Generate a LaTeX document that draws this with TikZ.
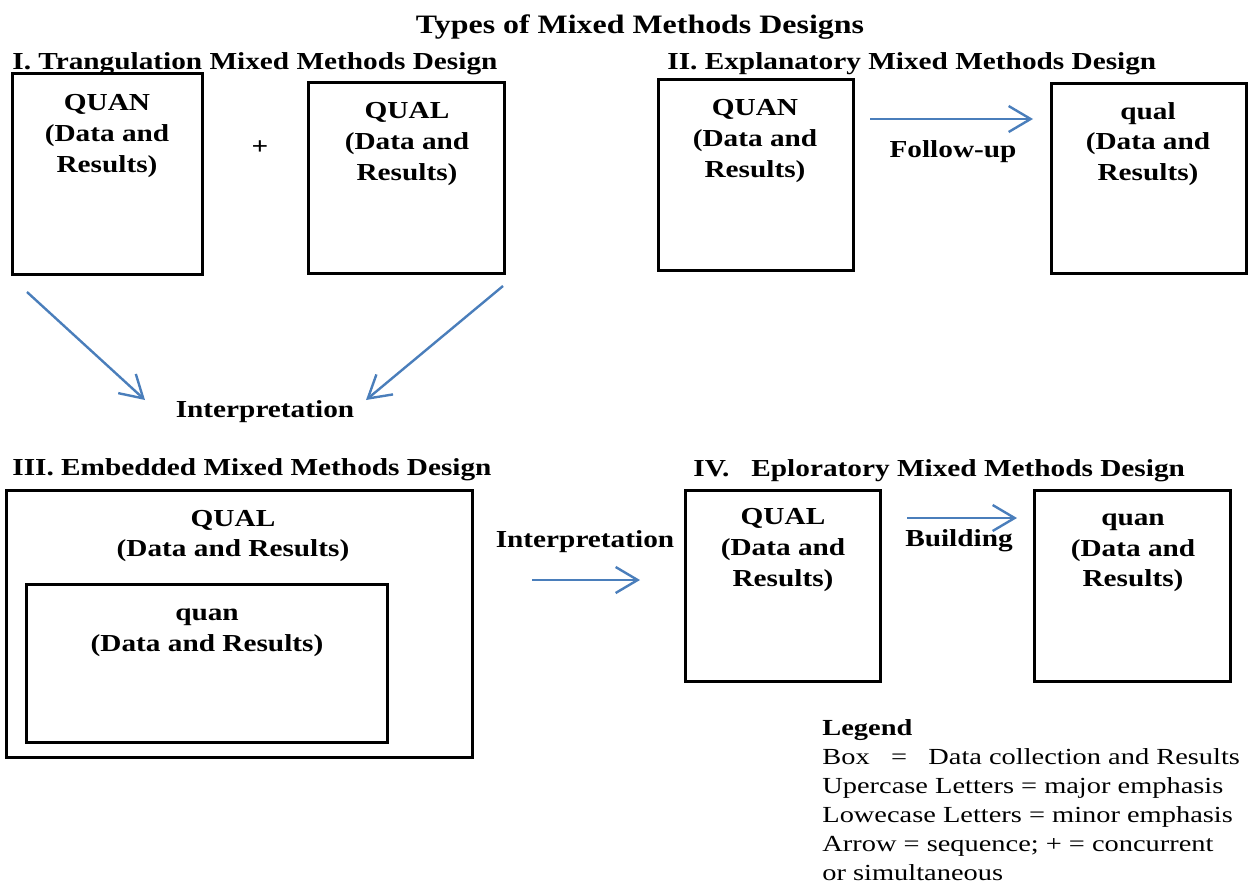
\documentclass[tikz,border=0pt]{standalone}
\usepackage{fontspec}
\setmainfont{Liberation Serif}[FakeStretch=1.2]
\newfontfamily\legfont{Liberation Serif}[FakeStretch=1.235]
\usetikzlibrary{arrows.meta,fit}
\definecolor{arrblue}{RGB}{74,126,187}
\tikzset{
  box/.style={draw, line width=1.5pt, inner sep=0pt},
  txt/.style={font=\bfseries\fontsize{12.2}{15.3}\selectfont, align=center, inner sep=0pt},
  head/.style={font=\bfseries\fontsize{12.2}{15}\selectfont, anchor=base west, inner sep=0pt},
  arr/.style={draw=arrblue, line width=1.2pt, -{Straight Barb[length=11pt,width=13pt]}},
}
\begin{document}
\begin{tikzpicture}[x=0.5pt,y=-0.5pt]
        \useasboundingbox (0,0) rectangle (1248,884);
        \node[font=\bfseries\fontsize{13.3}{16}\selectfont, anchor=base, inner sep=0pt] (title) at (640,33) {Types of Mixed Methods Designs};

        % I. triangulation
        \node[head] (h1) at (12,69) {I. Trangulation Mixed Methods Design};
        \node[box, fit={(12,73) (202,274)}] (b1) {};
        \node[box, fit={(308,82) (504,273)}] (b2) {};
        \node[txt] (t1) at (107,136) {QUAN\\(Data and\\Results)};
        \node[txt] (t2) at (407,144) {QUAL\\(Data and\\Results)};
        \node[txt] (plus) at (260,148) {+};
        \node[txt, anchor=base] (interp1) at (265,417) {Interpretation};
        \coordinate (s1) at (27,292);
        \coordinate (e1) at (145,400);
        \coordinate (s2) at (503,286);
        \coordinate (e2) at (366,400);
        \draw[arr] (s1) -- (e1);
        \draw[arr] (s2) -- (e2);

        % II. explanatory
        \node[head] (h2) at (667,69) {II. Explanatory Mixed Methods Design};
        \node[box, fit={(658,79) (853,270)}] (b3) {};
        \node[box, fit={(1051,83) (1246,273)}] (b4) {};
        \node[txt] (t3) at (755,141) {QUAN\\(Data and\\Results)};
        \node[txt] (t4) at (1148,144) {qual\\(Data and\\Results)};
        \node[txt, anchor=base] (follow) at (953,157) {Follow-up};
        \coordinate (s3) at (870,119);
        \coordinate (e3) at (1033,119);
        \draw[arr] (s3) -- (e3);

        % III. embedded
        \node[head] (h3) at (12,475) {III. Embedded Mixed Methods Design};
        \node[box, fit={(6,490) (472,757)}] (b5) {};
        \node[box, fit={(26,584) (387,742)}] (b6) {};
        \node[txt] (t5) at (233,536) {QUAL\\(Data and Results)};
        \node[txt] (t6) at (207,633) {quan\\(Data and Results)};

        % IV. exploratory
        \node[head] (h4) at (693,476) {IV.\ \ \ Eploratory Mixed Methods Design};
        \node[txt, anchor=base] (interp2) at (585,547) {Interpretation};
        \coordinate (s4) at (532,580);
        \coordinate (e4) at (640,580);
        \draw[arr] (s4) -- (e4);
        \node[box, fit={(685,490) (880,681)}] (b7) {};
        \node[box, fit={(1034,490) (1230,681)}] (b8) {};
        \node[txt] (t7) at (783,550) {QUAL\\(Data and\\Results)};
        \node[txt] (t8) at (1133,553) {quan\\(Data and\\Results)};
        \node[txt, anchor=base] (build) at (959,546) {Building};
        \coordinate (s5) at (907,518);
        \coordinate (e5) at (1017,518);
        \draw[arr] (s5) -- (e5);

        % legend
        \node[font=\legfont\bfseries\fontsize{11.5}{14.5}\selectfont, anchor=base west, inner sep=0pt] (leg) at (822,735) {Legend};
        \node[font=\legfont\fontsize{11.5}{14.5}\selectfont, anchor=north west, align=left, inner sep=0pt] (legtxt) at (822,748) {Box \ \ = \ \ Data collection and Results\\
          Upercase Letters = major emphasis\\
          Lowecase Letters = minor emphasis\\
          Arrow = sequence; + = concurrent\\
          or simultaneous};

    \end{tikzpicture}
\end{document}
